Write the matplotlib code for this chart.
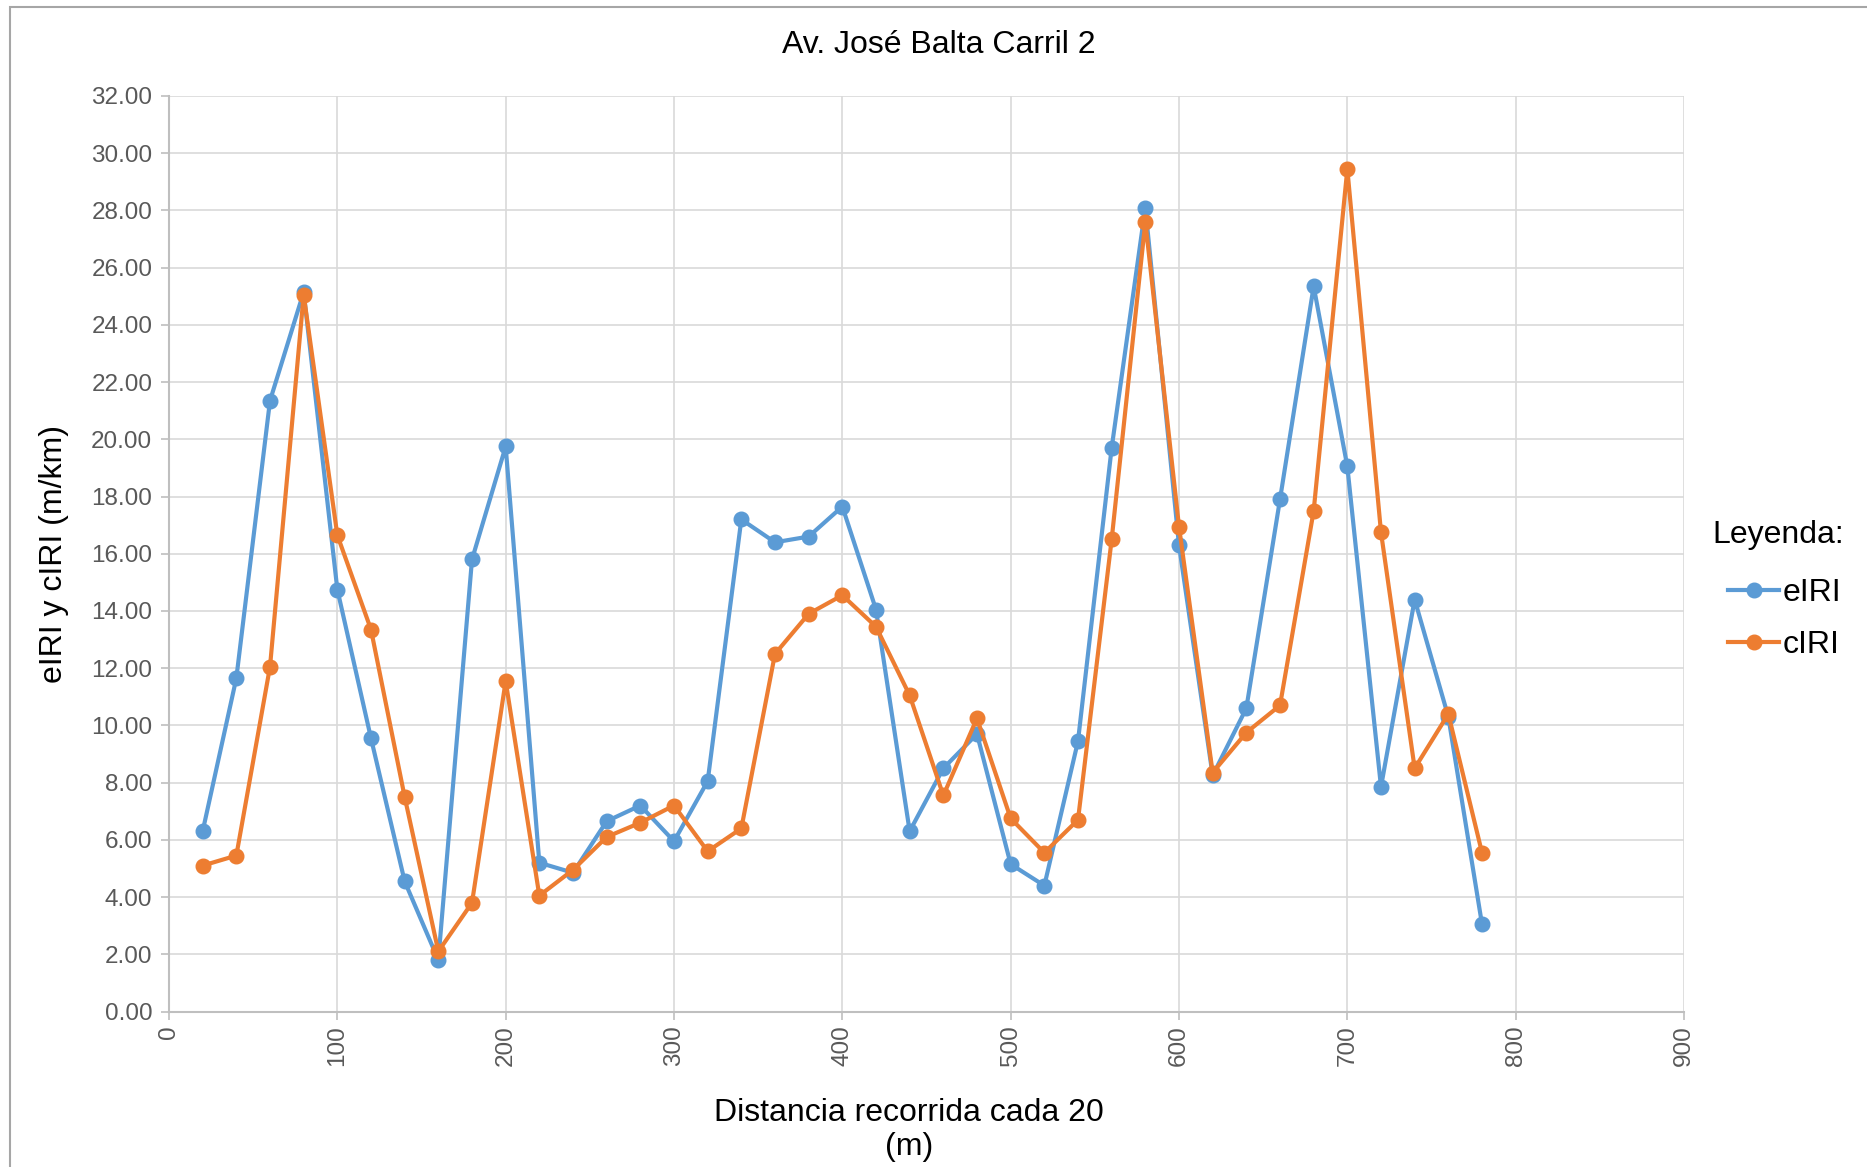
import matplotlib.pyplot as plt
from matplotlib.patches import Rectangle
from matplotlib.ticker import MultipleLocator, FormatStrFormatter

plt.rcParams['font.family'] = ['Liberation Sans', 'DejaVu Sans']

# distancia cada 20 m
distancia = list(range(20, 781, 20))

eiri = [6.30, 11.65, 21.35, 25.15, 14.75, 9.55, 4.55, 1.80, 15.80, 19.75,
        5.20, 4.85, 6.65, 7.20, 5.95, 8.05, 17.20, 16.40, 16.60, 17.65,
        14.05, 6.30, 8.50, 9.70, 5.15, 4.40, 9.45, 19.70, 28.10, 16.30,
        8.25, 10.60, 17.90, 25.35, 19.05, 7.85, 14.40, 10.30, 3.05]

ciri = [5.10, 5.45, 12.05, 25.05, 16.65, 13.35, 7.50, 2.10, 3.80, 11.55,
        4.05, 4.95, 6.10, 6.60, 7.20, 5.60, 6.40, 12.50, 13.90, 14.55,
        13.45, 11.05, 7.55, 10.25, 6.75, 5.55, 6.70, 16.50, 27.60, 16.95,
        8.35, 9.75, 10.70, 17.50, 29.45, 16.75, 8.50, 10.40, 5.55]

W, H = 1867, 1167
fig = plt.figure(figsize=(18.67, 11.67), dpi=100)
ax = fig.add_axes([169 / W, 1 - 1011.5 / H, 1515 / W, 915.5 / H])

# marco exterior del grafico
fig.patches.append(Rectangle((10 / W, -0.1), 1.2, 1 - 7 / H + 0.1,
                             transform=fig.transFigure, fill=False,
                             edgecolor='#a6a6a6', linewidth=1.5))

ax.plot(distancia, eiri, color='#5b9bd5', lw=3, marker='o', ms=10.5, label='eIRI')
ax.plot(distancia, ciri, color='#ed7d31', lw=3, marker='o', ms=10.5, label='cIRI')

ax.set_xlim(0, 900)
ax.set_ylim(0, 32)
ax.xaxis.set_major_locator(MultipleLocator(100))
ax.yaxis.set_major_locator(MultipleLocator(2))
ax.yaxis.set_major_formatter(FormatStrFormatter('%.2f'))

ax.grid(True, color='#d9d9d9', lw=1.2)
ax.set_axisbelow(True)
for s in ['top', 'right']:
    ax.spines[s].set_visible(False)
for s in ['left', 'bottom']:
    ax.spines[s].set_color('#bfbfbf')
    ax.spines[s].set_linewidth(1.5)

ax.tick_params(axis='both', colors='#bfbfbf', length=6, width=1.2,
               labelcolor='#595959', labelsize=17.5)
ax.tick_params(axis='x', labelrotation=90, pad=4)
ax.tick_params(axis='y', pad=6)

fig.text(939 / W, 1 - 45 / H, 'Av. José Balta Carril 2', fontsize=23,
         ha='center', va='center')
ax.set_ylabel('eIRI y cIRI (m/km)', fontsize=23, labelpad=16)
ax.set_xlabel('Distancia recorrida cada 20\n(m)', fontsize=23,
              linespacing=1.15)
ax.xaxis.label.set_va('center')
ax.xaxis.set_label_coords((909 - 169) / 1515, (1011.5 - 1130) / 915.5)

fig.text(1712 / W, 1 - 535 / H, 'Leyenda:', fontsize=23, ha='left', va='center')
leg = fig.legend(loc='upper left', bbox_to_anchor=(1728 / W, 1 - 578 / H),
                 frameon=False, fontsize=23, handlelength=1.6,
                 handletextpad=0.1, labelspacing=0.68, borderpad=0,
                 borderaxespad=0)

fig.savefig('out.png', dpi=100)
